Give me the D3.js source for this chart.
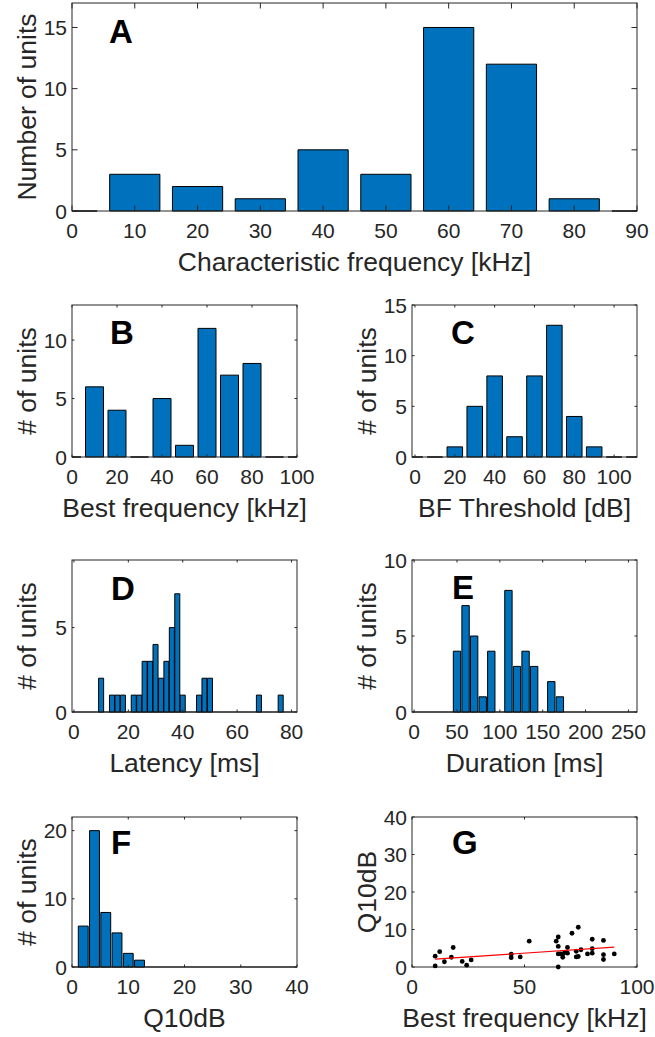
<!DOCTYPE html>
<html>
<head>
<meta charset="utf-8">
<script src="https://cdn.jsdelivr.net/npm/d3@7/dist/d3.min.js"></script>
<style>
  html, body { margin: 0; padding: 0; background: #fff; }
  svg { display: block; }
  text { font-family: "Liberation Sans", Arial, Helvetica, sans-serif; }
</style>
</head>
<body>
<svg id="chart" width="655" height="1037"></svg>
<script>
// ---------- Data ----------
// A: characteristic frequency histogram
const aCenters = [0, 10, 20, 30, 40, 50, 60, 70, 80, 90];
const aCounts  = [0, 3, 2, 1, 5, 3, 15, 12, 1, 0];
const aXTicks = [0, 10, 20, 30, 40, 50, 60, 70, 80, 90];
const aYTicks = [0, 5, 10, 15];

// B: best frequency histogram
const bCenters = [0, 10, 20, 30, 40, 50, 60, 70, 80, 90, 100];
const bCounts  = [0, 6, 4, 0, 5, 1, 11, 7, 8, 0, 0];
const bXTicks = [0, 20, 40, 60, 80, 100];
const bYTicks = [0, 5, 10];

// C: BF threshold histogram
const cCenters = [0, 10, 20, 30, 40, 50, 60, 70, 80, 90, 100, 110];
const cCounts  = [0, 0, 1, 5, 8, 2, 8, 13, 4, 1, 0, 0];
const cXTicks = [0, 20, 40, 60, 80, 100];
const cYTicks = [0, 5, 10, 15];

// D: latency histogram
const dCenters = [10, 14, 16, 18, 22, 24, 26, 28, 30, 32, 34, 36, 38, 40, 46, 48, 50, 68, 76];
const dCounts  = [2, 1, 1, 1, 1, 1, 3, 3, 4, 2, 3, 5, 7, 1, 1, 2, 2, 1, 1];
const dXTicks = [0, 20, 40, 60, 80];
const dYTicks = [0, 5];

// E: duration histogram
const eCenters = [50, 60, 70, 80, 90, 110, 120, 130, 140, 160, 170];
const eCounts  = [4, 7, 5, 1, 4, 8, 3, 4, 3, 2, 1];
const eXTicks = [0, 50, 100, 150, 200, 250];
const eYTicks = [0, 5, 10];

// F: Q10dB histogram
const fCenters = [2, 4, 6, 8, 10, 12];
const fCounts  = [6, 20, 8, 5, 2, 1];
const fXTicks = [0, 10, 20, 30, 40];
const fYTicks = [0, 10, 20];

// G: Q10dB vs best frequency scatter
const gX = [10.3, 10.3, 12.3, 14.4, 17.5, 18.3, 22.3, 24.3, 26.3, 44.1, 44.1, 48.1, 52.1,
            64.1, 65.0, 65.0, 65.0, 65.0, 66.0, 67.0, 67.0, 68.0, 69.1, 69.1, 71.1, 73.0, 73.0,
            73.9, 73.9, 75.1, 78.0, 80.1, 80.1, 80.1, 85.1, 85.1, 85.1, 89.9];
const gY = [2.9, 0.3, 4.1, 1.4, 2.6, 5.2, 1.5, 0.5, 1.9, 3.4, 2.5, 2.7, 6.9,
            6.9, 8.0, 5.5, 3.5, 0.0, 3.5, 2.6, 3.5, 3.9, 5.2, 3.7, 9.0, 4.2, 2.7,
            10.6, 2.8, 4.6, 3.5, 7.4, 4.9, 3.7, 7.1, 3.3, 2.0, 3.5];
const gFitX = [10.3, 89.9];
const gFitY = [2.1, 5.3];
const gXTicks = [0, 50, 100];
const gYTicks = [0, 10, 20, 30, 40];

// ---------- Drawing ----------
const svg = d3.select("#chart");
const AX = "#262626";
const BLUE = "#0072BD";
const FONT_TICK = 21;
const FONT_LABEL = 26.5;

function makeAxes(o) {
  const g = svg.append("g");
  const x = d3.scaleLinear().domain(o.xDomain).range([o.left, o.right]);
  const y = d3.scaleLinear().domain(o.yDomain).range([o.bottom, o.top]);
  const clipId = "clip" + o.letter;
  svg.append("clipPath").attr("id", clipId).append("rect")
    .attr("x", o.left).attr("y", o.top - 1)
    .attr("width", o.right - o.left).attr("height", o.bottom - o.top + 2);
  const plot = g.append("g").attr("clip-path", `url(#${clipId})`);
  return { g, plot, x, y };
}

function drawFrame(ax, o) {
  const { g, x, y } = ax;
  const tl = o.tickLen;
  // ticks (inside, mirrored)
  o.xTicks.forEach(t => {
    const px = x(t);
    g.append("line").attr("x1", px).attr("x2", px).attr("y1", o.bottom).attr("y2", o.bottom - tl)
      .attr("stroke", AX).attr("stroke-width", 1);
    g.append("line").attr("x1", px).attr("x2", px).attr("y1", o.top).attr("y2", o.top + tl)
      .attr("stroke", AX).attr("stroke-width", 1);
    g.append("text").attr("x", px).attr("y", o.bottom + 27)
      .attr("text-anchor", "middle").attr("font-size", FONT_TICK).attr("fill", AX).text(t);
  });
  o.yTicks.forEach(t => {
    const py = y(t);
    g.append("line").attr("x1", o.left).attr("x2", o.left + tl).attr("y1", py).attr("y2", py)
      .attr("stroke", AX).attr("stroke-width", 1);
    g.append("line").attr("x1", o.right).attr("x2", o.right - tl).attr("y1", py).attr("y2", py)
      .attr("stroke", AX).attr("stroke-width", 1);
    g.append("text").attr("x", o.left - 5).attr("y", py).attr("dy", "0.36em")
      .attr("text-anchor", "end").attr("font-size", FONT_TICK).attr("fill", AX).text(t);
  });
  g.append("rect").attr("x", o.left).attr("y", o.top)
    .attr("width", o.right - o.left).attr("height", o.bottom - o.top)
    .attr("fill", "none").attr("stroke", AX).attr("stroke-width", 1);
  // labels
  g.append("text").attr("x", (o.left + o.right) / 2).attr("y", o.bottom + 60)
    .attr("text-anchor", "middle").attr("font-size", FONT_LABEL).attr("fill", AX).text(o.xlabel);
  const cy = (o.top + o.bottom) / 2;
  g.append("text").attr("transform", `translate(${o.left - 36},${cy}) rotate(-90)`)
    .attr("text-anchor", "middle").attr("font-size", FONT_LABEL).attr("fill", AX).text(o.ylabel);
  // panel letter
  g.append("text").attr("x", o.left + o.letterDx).attr("y", o.top + o.letterDy)
    .attr("font-size", 33).attr("font-weight", "bold").attr("fill", "#000").text(o.letter);
}

function drawHist(o, centers, counts) {
  const ax = makeAxes(o);
  const { plot, x, y } = ax;
  if (o.baseline) {
    plot.append("line").attr("x1", o.left).attr("x2", o.right)
      .attr("y1", y(0)).attr("y2", y(0)).attr("stroke", "#000").attr("stroke-width", 1);
  }
  const hw = o.barWidth / 2;
  plot.selectAll("path.bar").data(centers.map((c, i) => ({ c, n: counts[i] })))
    .join("path").attr("class", "bar")
    .attr("d", d => {
      const x0 = x(d.c - hw), x1 = x(d.c + hw), y0 = y(0), y1 = y(d.n);
      return `M${x0},${y0}V${y1}H${x1}V${y0}Z`;
    })
    .attr("fill", BLUE).attr("stroke", "#000").attr("stroke-width", 1);
  drawFrame(ax, o);
}

const L = { left: 72, right: 297 };
const R = { left: 412, right: 637 };

drawHist({ letter: "A", left: 72, right: 637, top: 3, bottom: 211,
  xDomain: [0, 90], yDomain: [0, 17], xTicks: aXTicks, yTicks: aYTicks, tickLen: 5.5,
  barWidth: 8, xlabel: "Characteristic frequency [kHz]", ylabel: "Number of units",
  letterDx: 37, letterDy: 40 }, aCenters, aCounts);

drawHist({ letter: "B", ...L, top: 305, bottom: 457,
  xDomain: [0, 100], yDomain: [0, 13], xTicks: bXTicks, yTicks: bYTicks, tickLen: 2.5,
  barWidth: 8, xlabel: "Best frequency [kHz]", ylabel: "# of units",
  letterDx: 38, letterDy: 39 }, bCenters, bCounts);

drawHist({ letter: "C", ...R, top: 305, bottom: 457,
  xDomain: [-1.5, 111.5], yDomain: [0, 15], xTicks: cXTicks, yTicks: cYTicks, tickLen: 2.5,
  barWidth: 7.8, xlabel: "BF Threshold [dB]", ylabel: "# of units",
  letterDx: 39, letterDy: 39 }, cCenters, cCounts);

drawHist({ letter: "D", ...L, top: 560, bottom: 712,
  xDomain: [-0.7, 82], yDomain: [0, 9], xTicks: dXTicks, yTicks: dYTicks, tickLen: 2.5,
  barWidth: 1.85, baseline: true, xlabel: "Latency [ms]", ylabel: "# of units",
  letterDx: 39, letterDy: 40 }, dCenters, dCounts);

drawHist({ letter: "E", ...R, top: 560, bottom: 712,
  xDomain: [-2.5, 260], yDomain: [0, 10], xTicks: eXTicks, yTicks: eYTicks, tickLen: 2.5,
  barWidth: 8.6, baseline: true, xlabel: "Duration [ms]", ylabel: "# of units",
  letterDx: 40, letterDy: 39 }, eCenters, eCounts);

drawHist({ letter: "F", ...L, top: 817, bottom: 967,
  xDomain: [0, 40], yDomain: [0, 22], xTicks: fXTicks, yTicks: fYTicks, tickLen: 2.5,
  barWidth: 1.76, baseline: true, xlabel: "Q10dB", ylabel: "# of units",
  letterDx: 39, letterDy: 37 }, fCenters, fCounts);

// G scatter
(function () {
  const o = { letter: "G", ...R, top: 817, bottom: 967,
    xDomain: [0, 100], yDomain: [0, 40], xTicks: gXTicks, yTicks: gYTicks, tickLen: 2.5,
    xlabel: "Best frequency [kHz]", ylabel: "Q10dB", letterDx: 40, letterDy: 37 };
  const ax = makeAxes(o);
  const { g, x, y } = ax;
  drawFrame(ax, o);
  g.selectAll("circle.pt").data(gX.map((v, i) => [v, gY[i]])).join("circle")
    .attr("class", "pt").attr("cx", d => x(d[0])).attr("cy", d => y(d[1]))
    .attr("r", 2.4).attr("fill", "#000");
  g.append("path").datum(gFitX.map((v, i) => [v, gFitY[i]]))
    .attr("d", d3.line().x(d => x(d[0])).y(d => y(d[1])))
    .attr("stroke", "#ff0000").attr("stroke-width", 1.2).attr("fill", "none");
})();
</script>
</body>
</html>
